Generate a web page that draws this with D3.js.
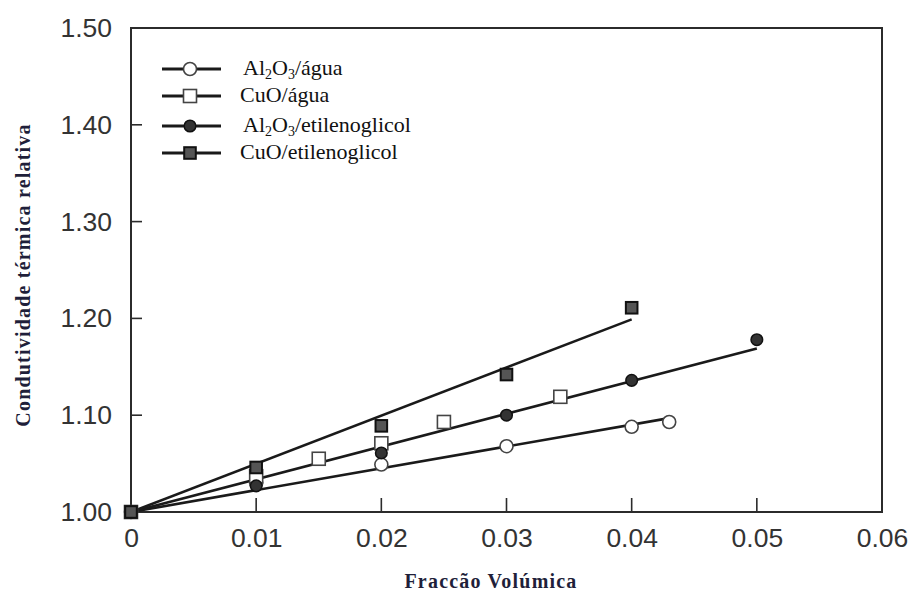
<!DOCTYPE html>
<html>
<head>
<meta charset="utf-8">
<script src="https://cdn.jsdelivr.net/npm/d3@7"></script>
<style>
  body { margin: 0; background: #fff; }
  .tick text { font-family: "Liberation Sans", Arial, sans-serif; }
</style>
</head>
<body>
<div class="svg-class"></div>
<script>
// data
var seriesNames = ["Al2O3/água", "CuO/água", "Al2O3/etilenoglicol", "CuO/etilenoglicol"];
var seriesKinds = ["circleOpen", "squareOpen", "circleFilled", "squareFilled"];

var alAguaX = [0, 0.01, 0.02, 0.03, 0.04, 0.043];
var alAguaY = [1.00, 1.030, 1.049, 1.068, 1.088, 1.093];

var cuAguaX = [0, 0.01, 0.015, 0.02, 0.025, 0.0343];
var cuAguaY = [1.00, 1.037, 1.055, 1.071, 1.093, 1.119];

var alEgX = [0, 0.01, 0.02, 0.03, 0.04, 0.05];
var alEgY = [1.00, 1.027, 1.061, 1.100, 1.136, 1.178];

var cuEgX = [0, 0.01, 0.02, 0.03, 0.04];
var cuEgY = [1.00, 1.046, 1.089, 1.142, 1.211];

// fitted lines (start, end)
var fitX = [[0, 0.043], [0, 0.05], [0, 0.04]];
var fitY = [[1.00, 1.097], [1.00, 1.169], [1.00, 1.199]];

var xTicks = [0, 0.01, 0.02, 0.03, 0.04, 0.05, 0.06];
var yTicks = [1.00, 1.10, 1.20, 1.30, 1.40, 1.50];

var width = 913, height = 597;
var margin = { top: 28, right: 31, bottom: 85, left: 131 };

var svg = d3.select(".svg-class")
    .append("svg")
    .attr("width", width)
    .attr("height", height);

var x = d3.scaleLinear()
    .domain([0, 0.06])
    .range([margin.left, width - margin.right]);

var y = d3.scaleLinear()
    .domain([1.00, 1.50])
    .range([height - margin.bottom, margin.top]);

var ink = "#2b2b2b";

// x axis labels and inner ticks
var xAxis = svg.append("g")
    .attr("transform", "translate(0," + y(1.00) + ")")
    .call(d3.axisBottom(x)
        .tickValues(xTicks)
        .tickSize(0)
        .tickPadding(16)
        .tickFormat(function (d) { return d === 0 ? "0" : d3.format(".2f")(d); }));
xAxis.select(".domain").remove();
xAxis.selectAll("text").attr("font-size", "26.5px").attr("fill", "#333");

svg.append("g")
    .selectAll("line")
    .data(xTicks.filter(function (d) { return d > 0 && d < 0.06; }))
    .enter()
    .append("line")
    .attr("x1", function (d) { return x(d); })
    .attr("x2", function (d) { return x(d); })
    .attr("y1", y(1.00))
    .attr("y2", y(1.00) - 14)
    .attr("stroke", ink)
    .attr("stroke-width", 1.6);

// y axis labels and inner ticks
var yAxis = svg.append("g")
    .attr("transform", "translate(" + x(0) + ",0)")
    .call(d3.axisLeft(y)
        .tickValues(yTicks)
        .tickSize(0)
        .tickPadding(19)
        .tickFormat(d3.format(".2f")));
yAxis.select(".domain").remove();
yAxis.selectAll("text").attr("font-size", "26.5px").attr("fill", "#333");

svg.append("g")
    .selectAll("line")
    .data(yTicks.filter(function (d) { return d > 1.0 && d < 1.5; }))
    .enter()
    .append("line")
    .attr("x1", x(0))
    .attr("x2", x(0) + 11)
    .attr("y1", function (d) { return y(d); })
    .attr("y2", function (d) { return y(d); })
    .attr("stroke", ink)
    .attr("stroke-width", 1.6);

// frame
svg.append("rect")
    .attr("x", x(0))
    .attr("y", y(1.50))
    .attr("width", x(0.06) - x(0))
    .attr("height", y(1.00) - y(1.50))
    .attr("fill", "none")
    .attr("stroke", ink)
    .attr("stroke-width", 2);

// fitted lines
fitX.forEach(function (fx, i) {
    svg.append("line")
        .attr("x1", x(fx[0]))
        .attr("y1", y(fitY[i][0]))
        .attr("x2", x(fx[1]))
        .attr("y2", y(fitY[i][1]))
        .attr("stroke", "#1a1a1a")
        .attr("stroke-width", 2.6);
});

// markers
function drawMarker(g, kind, cx, cy) {
    if (kind === "circleOpen") {
        g.append("circle").attr("cx", cx).attr("cy", cy).attr("r", 6.5)
            .attr("fill", "#fff").attr("stroke", "#444").attr("stroke-width", 1.6);
    } else if (kind === "circleFilled") {
        g.append("circle").attr("cx", cx).attr("cy", cy).attr("r", 5.8)
            .attr("fill", "#333").attr("stroke", "#111").attr("stroke-width", 1.5);
    } else if (kind === "squareOpen") {
        g.append("rect").attr("x", cx - 6.5).attr("y", cy - 6.5).attr("width", 13).attr("height", 13)
            .attr("fill", "#fff").attr("stroke", "#444").attr("stroke-width", 1.6);
    } else {
        g.append("rect").attr("x", cx - 5.8).attr("y", cy - 5.8).attr("width", 11.6).attr("height", 11.6)
            .attr("fill", "#555").attr("stroke", "#111").attr("stroke-width", 2);
    }
}

var allX = [alAguaX, cuAguaX, alEgX, cuEgX];
var allY = [alAguaY, cuAguaY, alEgY, cuEgY];
var points = svg.append("g");
allX.forEach(function (xs, s) {
    xs.forEach(function (d, i) {
        drawMarker(points, seriesKinds[s], x(d), y(allY[s][i]));
    });
});

// legend
var legend = svg.append("g").attr("font-family", "'Liberation Serif', 'Times New Roman', serif")
    .attr("font-size", "22px").attr("fill", "#111");
var legendRows = [69, 96, 126, 153];
seriesNames.forEach(function (name, i) {
    var ly = legendRows[i];
    legend.append("line")
        .attr("x1", 162).attr("x2", 221)
        .attr("y1", ly).attr("y2", ly)
        .attr("stroke", "#1a1a1a").attr("stroke-width", 2.8);
    drawMarker(legend, seriesKinds[i], 190, ly);
    var t = legend.append("text").attr("x", i % 2 === 0 ? 243 : 240).attr("y", ly + 6);
    if (name.indexOf("Al2O3") === 0) {
        t.append("tspan").text("Al");
        t.append("tspan").attr("font-size", "14px").attr("dy", 4).text("2");
        t.append("tspan").attr("dy", -4).text("O");
        t.append("tspan").attr("font-size", "14px").attr("dy", 4).text("3");
        t.append("tspan").attr("dy", -4).text(name.slice(5));
    } else {
        t.text(name);
    }
});

// axis titles
svg.append("text")
    .attr("x", 491)
    .attr("y", 588)
    .attr("text-anchor", "middle")
    .attr("font-family", "'Liberation Serif', 'Times New Roman', serif")
    .attr("font-weight", "bold")
    .attr("font-size", "20px")
    .attr("letter-spacing", "1.2px")
    .attr("fill", "#1f1f3a")
    .text("Fraccão Volúmica");

svg.append("text")
    .attr("transform", "translate(30,275) rotate(-90)")
    .attr("text-anchor", "middle")
    .attr("font-family", "'Liberation Serif', 'Times New Roman', serif")
    .attr("font-weight", "bold")
    .attr("font-size", "20px")
    .attr("letter-spacing", "1.2px")
    .attr("fill", "#1f1f3a")
    .text("Condutividade térmica relativa");
</script>
</body>
</html>
